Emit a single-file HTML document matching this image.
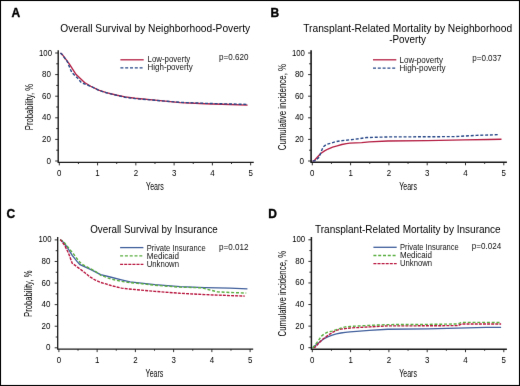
<!DOCTYPE html>
<html><head><meta charset="utf-8"><style>
html,body{margin:0;padding:0;background:#fff;width:520px;height:386px;overflow:hidden;}
svg{display:block;font-family:"Liberation Sans", sans-serif;}
</style></head><body>
<svg width="520" height="386" viewBox="0 0 520 386" font-family="Liberation Sans, sans-serif">
<defs><filter id="bl" x="0" y="0" width="520" height="386" filterUnits="userSpaceOnUse" color-interpolation-filters="sRGB"><feConvolveMatrix order="3" kernelMatrix="0 1 0 1 16 1 0 1 0" edgeMode="duplicate"/></filter></defs>
<g filter="url(#bl)">
<rect x="0" y="0" width="520" height="386" fill="#fff"/>
<text x="11.4" y="17.1" font-size="12" font-weight="bold" fill="#000" stroke="#000" stroke-width="0.35">A</text>
<text x="270.6" y="17.2" font-size="12" font-weight="bold" fill="#000" stroke="#000" stroke-width="0.35">B</text>
<text x="6.4" y="217.9" font-size="12" font-weight="bold" fill="#000" stroke="#000" stroke-width="0.35">C</text>
<text x="268.2" y="217.9" font-size="12" font-weight="bold" fill="#000" stroke="#000" stroke-width="0.35">D</text>
<text x="60.2" y="32" font-size="11" textLength="190" lengthAdjust="spacingAndGlyphs" fill="#000">Overall Survival by Neighborhood-Poverty</text>
<text x="303.2" y="31.8" font-size="11" textLength="209" lengthAdjust="spacingAndGlyphs" fill="#000">Transplant-Related Mortality by Neighborhood</text>
<text x="389.2" y="43.3" font-size="11" textLength="36.8" lengthAdjust="spacingAndGlyphs" fill="#000">-Poverty</text>
<text x="90.2" y="232.7" font-size="11" textLength="127.6" lengthAdjust="spacingAndGlyphs" fill="#000">Overall Survival by Insurance</text>
<text x="315" y="232.7" font-size="11" textLength="185.7" lengthAdjust="spacingAndGlyphs" fill="#000">Transplant-Related Mortality by Insurance</text>
<g stroke="#1a1a1a" fill="none" stroke-width="1.4">
<path d="M58.2 50.2 V162.4 H253.75"/>
<path d="M55.2 161 H58.2" stroke-width="0.9"/>
<path d="M56.2 150.2 H58.2" stroke-width="0.9"/>
<path d="M55.2 139.4 H58.2" stroke-width="0.9"/>
<path d="M56.2 128.6 H58.2" stroke-width="0.9"/>
<path d="M55.2 117.8 H58.2" stroke-width="0.9"/>
<path d="M56.2 107 H58.2" stroke-width="0.9"/>
<path d="M55.2 96.2 H58.2" stroke-width="0.9"/>
<path d="M56.2 85.4 H58.2" stroke-width="0.9"/>
<path d="M55.2 74.6 H58.2" stroke-width="0.9"/>
<path d="M56.2 63.8 H58.2" stroke-width="0.9"/>
<path d="M55.2 53 H58.2" stroke-width="0.9"/>
<path d="M59.3 162.4 V165.4" stroke-width="0.9"/>
<path d="M78.44 162.4 V164" stroke-width="0.9"/>
<path d="M97.57 162.4 V165.4" stroke-width="0.9"/>
<path d="M116.7 162.4 V164" stroke-width="0.9"/>
<path d="M135.84 162.4 V165.4" stroke-width="0.9"/>
<path d="M154.98 162.4 V164" stroke-width="0.9"/>
<path d="M174.11 162.4 V165.4" stroke-width="0.9"/>
<path d="M193.25 162.4 V164" stroke-width="0.9"/>
<path d="M212.38 162.4 V165.4" stroke-width="0.9"/>
<path d="M231.51 162.4 V164" stroke-width="0.9"/>
<path d="M250.65 162.4 V165.4" stroke-width="0.9"/>
</g>
<text x="51" y="163.5" font-size="9.1" text-anchor="end" textLength="4.5" lengthAdjust="spacingAndGlyphs" fill="#000">0</text>
<text x="50.9" y="141.9" font-size="9.1" text-anchor="end" textLength="8.9" lengthAdjust="spacingAndGlyphs" fill="#000">20</text>
<text x="50.9" y="120.3" font-size="9.1" text-anchor="end" textLength="8.9" lengthAdjust="spacingAndGlyphs" fill="#000">40</text>
<text x="50.9" y="98.7" font-size="9.1" text-anchor="end" textLength="8.9" lengthAdjust="spacingAndGlyphs" fill="#000">60</text>
<text x="50.9" y="77.1" font-size="9.1" text-anchor="end" textLength="8.9" lengthAdjust="spacingAndGlyphs" fill="#000">80</text>
<text x="52" y="55.5" font-size="9.1" text-anchor="end" textLength="13" lengthAdjust="spacingAndGlyphs" fill="#000">100</text>
<text x="59.3" y="175.7" font-size="8.2" text-anchor="middle" textLength="4.4" lengthAdjust="spacingAndGlyphs" fill="#000">0</text>
<text x="97.57" y="175.7" font-size="8.2" text-anchor="middle" textLength="4.4" lengthAdjust="spacingAndGlyphs" fill="#000">1</text>
<text x="135.84" y="175.7" font-size="8.2" text-anchor="middle" textLength="4.4" lengthAdjust="spacingAndGlyphs" fill="#000">2</text>
<text x="174.11" y="175.7" font-size="8.2" text-anchor="middle" textLength="4.4" lengthAdjust="spacingAndGlyphs" fill="#000">3</text>
<text x="212.38" y="175.7" font-size="8.2" text-anchor="middle" textLength="4.4" lengthAdjust="spacingAndGlyphs" fill="#000">4</text>
<text x="250.65" y="175.7" font-size="8.2" text-anchor="middle" textLength="4.4" lengthAdjust="spacingAndGlyphs" fill="#000">5</text>
<text x="154.98" y="190.1" font-size="10" text-anchor="middle" textLength="17.8" lengthAdjust="spacingAndGlyphs" fill="#000">Years</text>
<text transform="translate(32.5 107.05) rotate(-90)" x="0" y="0" font-size="10.4" text-anchor="middle" textLength="46.3" lengthAdjust="spacingAndGlyphs" fill="#000">Probability, %</text>
<path d="M60.45 53 L62.36 54.62 L69.1 63.69 L76.14 74.6 L84.56 82.48 L90.68 86.26 L98.72 90.15 L106.37 92.53 L117.09 95.23 L125.12 96.85 L135.07 98.25 L154.98 100.2 L180.23 102.57 L205.11 103.76 L229.98 104.52 L247.59 105.16" fill="none" stroke="#b41f44" stroke-width="1.35" stroke-linejoin="round"/>
<path d="M60.45 53 L62.36 54.84 L67.34 61.64 L69.63 67.47 L71.93 72.66 L76.9 77.41 L81.5 82.7 L87.24 84.97 L92.98 87.34 L98.72 90.37 L106.37 92.74 L117.09 95.44 L125.12 97.28 L135.07 98.58 L154.98 100.3 L180.23 102.36 L205.11 103.33 L229.98 103.98 L247.59 104.41" fill="none" stroke="#284888" stroke-width="1.4" stroke-dasharray="3 1.8" stroke-linejoin="round"/>
<path d="M120.4 59.8 H143.7" stroke="#b41f44" stroke-width="1.3"/>
<text x="147.6" y="62.1" font-size="8.6" textLength="42.7" lengthAdjust="spacingAndGlyphs" fill="#111">Low-poverty</text>
<path d="M120.4 67.8 H143.7" stroke="#284888" stroke-width="1.3" stroke-dasharray="3 1.8"/>
<text x="147.6" y="70.1" font-size="8.6" textLength="45.2" lengthAdjust="spacingAndGlyphs" fill="#111">High-poverty</text>
<text x="219" y="60.1" font-size="8.5" textLength="29.4" lengthAdjust="spacingAndGlyphs" fill="#111">p=0.620</text>
<g stroke="#1a1a1a" fill="none" stroke-width="1.6">
<path d="M311.1 50.2 V162.3 H506.9"/>
<path d="M308.1 161 H311.1" stroke-width="0.9"/>
<path d="M309.1 150.2 H311.1" stroke-width="0.9"/>
<path d="M308.1 139.4 H311.1" stroke-width="0.9"/>
<path d="M309.1 128.6 H311.1" stroke-width="0.9"/>
<path d="M308.1 117.8 H311.1" stroke-width="0.9"/>
<path d="M309.1 107 H311.1" stroke-width="0.9"/>
<path d="M308.1 96.2 H311.1" stroke-width="0.9"/>
<path d="M309.1 85.4 H311.1" stroke-width="0.9"/>
<path d="M308.1 74.6 H311.1" stroke-width="0.9"/>
<path d="M309.1 63.8 H311.1" stroke-width="0.9"/>
<path d="M308.1 53 H311.1" stroke-width="0.9"/>
<path d="M312.3 162.3 V165.3" stroke-width="0.9"/>
<path d="M331.45 162.3 V163.9" stroke-width="0.9"/>
<path d="M350.6 162.3 V165.3" stroke-width="0.9"/>
<path d="M369.75 162.3 V163.9" stroke-width="0.9"/>
<path d="M388.9 162.3 V165.3" stroke-width="0.9"/>
<path d="M408.05 162.3 V163.9" stroke-width="0.9"/>
<path d="M427.2 162.3 V165.3" stroke-width="0.9"/>
<path d="M446.35 162.3 V163.9" stroke-width="0.9"/>
<path d="M465.5 162.3 V165.3" stroke-width="0.9"/>
<path d="M484.65 162.3 V163.9" stroke-width="0.9"/>
<path d="M503.8 162.3 V165.3" stroke-width="0.9"/>
</g>
<text x="303.9" y="163.5" font-size="9.1" text-anchor="end" textLength="4.5" lengthAdjust="spacingAndGlyphs" fill="#000">0</text>
<text x="303.8" y="141.9" font-size="9.1" text-anchor="end" textLength="8.9" lengthAdjust="spacingAndGlyphs" fill="#000">20</text>
<text x="303.8" y="120.3" font-size="9.1" text-anchor="end" textLength="8.9" lengthAdjust="spacingAndGlyphs" fill="#000">40</text>
<text x="303.8" y="98.7" font-size="9.1" text-anchor="end" textLength="8.9" lengthAdjust="spacingAndGlyphs" fill="#000">60</text>
<text x="303.8" y="77.1" font-size="9.1" text-anchor="end" textLength="8.9" lengthAdjust="spacingAndGlyphs" fill="#000">80</text>
<text x="304.9" y="55.5" font-size="9.1" text-anchor="end" textLength="13" lengthAdjust="spacingAndGlyphs" fill="#000">100</text>
<text x="312.3" y="175.6" font-size="8.2" text-anchor="middle" textLength="4.4" lengthAdjust="spacingAndGlyphs" fill="#000">0</text>
<text x="350.6" y="175.6" font-size="8.2" text-anchor="middle" textLength="4.4" lengthAdjust="spacingAndGlyphs" fill="#000">1</text>
<text x="388.9" y="175.6" font-size="8.2" text-anchor="middle" textLength="4.4" lengthAdjust="spacingAndGlyphs" fill="#000">2</text>
<text x="427.2" y="175.6" font-size="8.2" text-anchor="middle" textLength="4.4" lengthAdjust="spacingAndGlyphs" fill="#000">3</text>
<text x="465.5" y="175.6" font-size="8.2" text-anchor="middle" textLength="4.4" lengthAdjust="spacingAndGlyphs" fill="#000">4</text>
<text x="503.8" y="175.6" font-size="8.2" text-anchor="middle" textLength="4.4" lengthAdjust="spacingAndGlyphs" fill="#000">5</text>
<text x="408.05" y="190" font-size="10" text-anchor="middle" textLength="17.8" lengthAdjust="spacingAndGlyphs" fill="#000">Years</text>
<text transform="translate(285.6 107.1) rotate(-90)" x="0" y="0" font-size="10.4" text-anchor="middle" textLength="86.4" lengthAdjust="spacingAndGlyphs" fill="#000">Cumulative incidence, %</text>
<path d="M312.68 161 L314.1 160.78 L317.28 157.22 L320.73 153.44 L324.56 150.85 L328 149.01 L332.6 147.18 L337.19 145.88 L341.79 144.48 L346.39 143.61 L349.83 143.18 L361.71 142.64 L369.37 141.88 L387.75 141.02 L427.2 140.7 L464.35 139.94 L488.48 139.51 L501.5 139.29" fill="none" stroke="#b41f44" stroke-width="1.35" stroke-linejoin="round"/>
<path d="M312.68 161 L314.98 160.78 L319.19 157.22 L321.3 151.28 L323.22 146.85 L326.28 144.48 L331.07 143.18 L335.28 141.78 L339.88 140.91 L349.83 139.83 L358.64 138.75 L366.69 137.56 L387.75 136.92 L419.54 136.81 L454.78 136.59 L476.22 135.4 L498.05 134.65" fill="none" stroke="#284888" stroke-width="1.4" stroke-dasharray="3 1.8" stroke-linejoin="round"/>
<path d="M373 59.8 H396.3" stroke="#b41f44" stroke-width="1.3"/>
<text x="399.5" y="62.6" font-size="8.6" textLength="43.6" lengthAdjust="spacingAndGlyphs" fill="#111">Low-poverty</text>
<path d="M373 68.2 H396.3" stroke="#284888" stroke-width="1.3" stroke-dasharray="3 1.8"/>
<text x="399.5" y="71" font-size="8.6" textLength="46" lengthAdjust="spacingAndGlyphs" fill="#111">High-poverty</text>
<text x="472.2" y="60.5" font-size="8.5" textLength="29.4" lengthAdjust="spacingAndGlyphs" fill="#111">p=0.037</text>
<g stroke="#1a1a1a" fill="none" stroke-width="1.3">
<path d="M57.7 237.1 V349.1 H253.2"/>
<path d="M54.7 347.8 H57.7" stroke-width="0.9"/>
<path d="M55.7 337.01 H57.7" stroke-width="0.9"/>
<path d="M54.7 326.22 H57.7" stroke-width="0.9"/>
<path d="M55.7 315.43 H57.7" stroke-width="0.9"/>
<path d="M54.7 304.64 H57.7" stroke-width="0.9"/>
<path d="M55.7 293.85 H57.7" stroke-width="0.9"/>
<path d="M54.7 283.06 H57.7" stroke-width="0.9"/>
<path d="M55.7 272.27 H57.7" stroke-width="0.9"/>
<path d="M54.7 261.48 H57.7" stroke-width="0.9"/>
<path d="M55.7 250.69 H57.7" stroke-width="0.9"/>
<path d="M54.7 239.9 H57.7" stroke-width="0.9"/>
<path d="M58.9 349.1 V352.1" stroke-width="0.9"/>
<path d="M78.02 349.1 V350.7" stroke-width="0.9"/>
<path d="M97.14 349.1 V352.1" stroke-width="0.9"/>
<path d="M116.26 349.1 V350.7" stroke-width="0.9"/>
<path d="M135.38 349.1 V352.1" stroke-width="0.9"/>
<path d="M154.5 349.1 V350.7" stroke-width="0.9"/>
<path d="M173.62 349.1 V352.1" stroke-width="0.9"/>
<path d="M192.74 349.1 V350.7" stroke-width="0.9"/>
<path d="M211.86 349.1 V352.1" stroke-width="0.9"/>
<path d="M230.98 349.1 V350.7" stroke-width="0.9"/>
<path d="M250.1 349.1 V352.1" stroke-width="0.9"/>
</g>
<text x="50.5" y="350.3" font-size="9.1" text-anchor="end" textLength="4.5" lengthAdjust="spacingAndGlyphs" fill="#000">0</text>
<text x="50.4" y="328.72" font-size="9.1" text-anchor="end" textLength="8.9" lengthAdjust="spacingAndGlyphs" fill="#000">20</text>
<text x="50.4" y="307.14" font-size="9.1" text-anchor="end" textLength="8.9" lengthAdjust="spacingAndGlyphs" fill="#000">40</text>
<text x="50.4" y="285.56" font-size="9.1" text-anchor="end" textLength="8.9" lengthAdjust="spacingAndGlyphs" fill="#000">60</text>
<text x="50.4" y="263.98" font-size="9.1" text-anchor="end" textLength="8.9" lengthAdjust="spacingAndGlyphs" fill="#000">80</text>
<text x="51.5" y="242.4" font-size="9.1" text-anchor="end" textLength="13" lengthAdjust="spacingAndGlyphs" fill="#000">100</text>
<text x="58.9" y="362.9" font-size="8.2" text-anchor="middle" textLength="4.4" lengthAdjust="spacingAndGlyphs" fill="#000">0</text>
<text x="97.14" y="362.9" font-size="8.2" text-anchor="middle" textLength="4.4" lengthAdjust="spacingAndGlyphs" fill="#000">1</text>
<text x="135.38" y="362.9" font-size="8.2" text-anchor="middle" textLength="4.4" lengthAdjust="spacingAndGlyphs" fill="#000">2</text>
<text x="173.62" y="362.9" font-size="8.2" text-anchor="middle" textLength="4.4" lengthAdjust="spacingAndGlyphs" fill="#000">3</text>
<text x="211.86" y="362.9" font-size="8.2" text-anchor="middle" textLength="4.4" lengthAdjust="spacingAndGlyphs" fill="#000">4</text>
<text x="250.1" y="362.9" font-size="8.2" text-anchor="middle" textLength="4.4" lengthAdjust="spacingAndGlyphs" fill="#000">5</text>
<text x="154.5" y="377.3" font-size="10" text-anchor="middle" textLength="17.8" lengthAdjust="spacingAndGlyphs" fill="#000">Years</text>
<text transform="translate(32.2 293.75) rotate(-90)" x="0" y="0" font-size="10.4" text-anchor="middle" textLength="46.5" lengthAdjust="spacingAndGlyphs" fill="#000">Probability, %</text>
<path d="M60.05 239.9 L61.88 240.55 L67.08 247.02 L72.21 255.44 L77.41 261.91 L80.01 264.72 L90.41 269.36 L100.7 274.64 L111.1 277.23 L121.5 279.82 L130.03 281.87 L154.88 284.57 L180.12 286.62 L204.98 287.59 L229.83 288.13 L247.42 288.89" fill="none" stroke="#41609c" stroke-width="1.35" stroke-linejoin="round"/>
<path d="M60.05 239.9 L63.18 241.19 L68.38 247.67 L73.51 253.93 L78.71 260.94 L81.84 264.18 L95.61 271.51 L100.7 275.29 L111.1 279.07 L121.5 281.33 L127.73 282.41 L135.38 283.06 L154.88 285.22 L180.12 287.16 L201.92 287.81 L208.04 289.53 L217.21 291.8 L229.83 292.45 L246.28 293.09" fill="none" stroke="#5aae40" stroke-width="1.4" stroke-dasharray="3 1.8" stroke-linejoin="round"/>
<path d="M60.05 239.9 L60.58 239.9 L64.48 245.08 L68.38 252.85 L72.21 263.21 L77.41 267.09 L80.01 268.93 L85.21 273.03 L90.41 277.23 L95.61 280.25 L100.7 282.41 L105.9 283.92 L111.1 285.54 L116.26 286.84 L121.5 288.13 L127.73 288.89 L135 289.53 L154.88 291.37 L180.12 293.31 L204.98 294.61 L229.83 295.58 L244.75 296.12" fill="none" stroke="#b8173f" stroke-width="1.4" stroke-dasharray="3 1.1" stroke-linejoin="round"/>
<path d="M120.1 247.6 H143.4" stroke="#41609c" stroke-width="1.3"/>
<text x="146.7" y="250.5" font-size="8.6" textLength="59" lengthAdjust="spacingAndGlyphs" fill="#111">Private Insurance</text>
<path d="M120.1 255.95 H143.4" stroke="#5aae40" stroke-width="1.3" stroke-dasharray="3 1.8"/>
<text x="146.7" y="258.85" font-size="8.6" textLength="32.3" lengthAdjust="spacingAndGlyphs" fill="#111">Medicaid</text>
<path d="M120.1 264.3 H143.4" stroke="#b8173f" stroke-width="1.3" stroke-dasharray="3 1.1"/>
<text x="146.7" y="267.2" font-size="8.6" textLength="32.3" lengthAdjust="spacingAndGlyphs" fill="#111">Unknown</text>
<text x="219" y="249.9" font-size="8.5" textLength="29.4" lengthAdjust="spacingAndGlyphs" fill="#111">p=0.012</text>
<g stroke="#1a1a1a" fill="none" stroke-width="1.5">
<path d="M311.4 237 V349.2 H506.9"/>
<path d="M308.4 347.7 H311.4" stroke-width="0.9"/>
<path d="M309.4 336.91 H311.4" stroke-width="0.9"/>
<path d="M308.4 326.12 H311.4" stroke-width="0.9"/>
<path d="M309.4 315.33 H311.4" stroke-width="0.9"/>
<path d="M308.4 304.54 H311.4" stroke-width="0.9"/>
<path d="M309.4 293.75 H311.4" stroke-width="0.9"/>
<path d="M308.4 282.96 H311.4" stroke-width="0.9"/>
<path d="M309.4 272.17 H311.4" stroke-width="0.9"/>
<path d="M308.4 261.38 H311.4" stroke-width="0.9"/>
<path d="M309.4 250.59 H311.4" stroke-width="0.9"/>
<path d="M308.4 239.8 H311.4" stroke-width="0.9"/>
<path d="M312.3 349.2 V352.2" stroke-width="0.9"/>
<path d="M331.45 349.2 V350.8" stroke-width="0.9"/>
<path d="M350.6 349.2 V352.2" stroke-width="0.9"/>
<path d="M369.75 349.2 V350.8" stroke-width="0.9"/>
<path d="M388.9 349.2 V352.2" stroke-width="0.9"/>
<path d="M408.05 349.2 V350.8" stroke-width="0.9"/>
<path d="M427.2 349.2 V352.2" stroke-width="0.9"/>
<path d="M446.35 349.2 V350.8" stroke-width="0.9"/>
<path d="M465.5 349.2 V352.2" stroke-width="0.9"/>
<path d="M484.65 349.2 V350.8" stroke-width="0.9"/>
<path d="M503.8 349.2 V352.2" stroke-width="0.9"/>
</g>
<text x="304.2" y="350.2" font-size="9.1" text-anchor="end" textLength="4.5" lengthAdjust="spacingAndGlyphs" fill="#000">0</text>
<text x="304.1" y="328.62" font-size="9.1" text-anchor="end" textLength="8.9" lengthAdjust="spacingAndGlyphs" fill="#000">20</text>
<text x="304.1" y="307.04" font-size="9.1" text-anchor="end" textLength="8.9" lengthAdjust="spacingAndGlyphs" fill="#000">40</text>
<text x="304.1" y="285.46" font-size="9.1" text-anchor="end" textLength="8.9" lengthAdjust="spacingAndGlyphs" fill="#000">60</text>
<text x="304.1" y="263.88" font-size="9.1" text-anchor="end" textLength="8.9" lengthAdjust="spacingAndGlyphs" fill="#000">80</text>
<text x="305.2" y="242.3" font-size="9.1" text-anchor="end" textLength="13" lengthAdjust="spacingAndGlyphs" fill="#000">100</text>
<text x="312.3" y="363" font-size="8.2" text-anchor="middle" textLength="4.4" lengthAdjust="spacingAndGlyphs" fill="#000">0</text>
<text x="350.6" y="363" font-size="8.2" text-anchor="middle" textLength="4.4" lengthAdjust="spacingAndGlyphs" fill="#000">1</text>
<text x="388.9" y="363" font-size="8.2" text-anchor="middle" textLength="4.4" lengthAdjust="spacingAndGlyphs" fill="#000">2</text>
<text x="427.2" y="363" font-size="8.2" text-anchor="middle" textLength="4.4" lengthAdjust="spacingAndGlyphs" fill="#000">3</text>
<text x="465.5" y="363" font-size="8.2" text-anchor="middle" textLength="4.4" lengthAdjust="spacingAndGlyphs" fill="#000">4</text>
<text x="503.8" y="363" font-size="8.2" text-anchor="middle" textLength="4.4" lengthAdjust="spacingAndGlyphs" fill="#000">5</text>
<text x="408.05" y="377.4" font-size="10" text-anchor="middle" textLength="17.8" lengthAdjust="spacingAndGlyphs" fill="#000">Years</text>
<text transform="translate(285.8 293.55) rotate(-90)" x="0" y="0" font-size="10.4" text-anchor="middle" textLength="85.7" lengthAdjust="spacingAndGlyphs" fill="#000">Cumulative incidence, %</text>
<path d="M312.68 347.7 L313.45 347.05 L318.81 342.74 L323.22 339.18 L327.62 336.91 L332.22 335.18 L336.43 333.89 L340.83 333.03 L345.24 332.38 L349.99 331.84 L369.37 330.33 L387.75 329.25 L428.35 328.82 L457.07 328.06 L486.18 327.31 L501.12 327.31" fill="none" stroke="#41609c" stroke-width="1.35" stroke-linejoin="round"/>
<path d="M313.45 347.7 L315.29 347.05 L318.81 343.06 L322.26 339.61 L325.9 336.91 L329.42 334.32 L332.98 332.16 L336.43 330.33 L340.83 329.03 L345.24 328.6 L349.99 327.95 L369.37 326.88 L387.75 325.9 L427.2 325.8 L457.84 325.58 L461.67 323.96 L501.12 323.96" fill="none" stroke="#b8173f" stroke-width="1.4" stroke-dasharray="3 1.1" stroke-linejoin="round"/>
<path d="M312.68 347.7 L313.45 347.05 L317.89 341.33 L321.49 336.15 L324.1 334 L327.62 332.16 L332.22 331.08 L336.43 329.57 L340.83 328.17 L345.24 326.88 L349.99 326.44 L369.37 325.36 L387.75 324.61 L427.2 324.39 L457.84 323.96 L461.67 322.34 L501.12 322.45" fill="none" stroke="#5aae40" stroke-width="1.4" stroke-dasharray="3 1.8" stroke-linejoin="round"/>
<path d="M373.4 247.3 H396.7" stroke="#41609c" stroke-width="1.3"/>
<text x="400" y="249.8" font-size="8.6" textLength="58.8" lengthAdjust="spacingAndGlyphs" fill="#111">Private Insurance</text>
<path d="M373.4 255.5 H396.7" stroke="#5aae40" stroke-width="1.3" stroke-dasharray="3 1.8"/>
<text x="400" y="258" font-size="8.6" textLength="32" lengthAdjust="spacingAndGlyphs" fill="#111">Medicaid</text>
<path d="M373.4 263.7 H396.7" stroke="#b8173f" stroke-width="1.3" stroke-dasharray="3 1.1"/>
<text x="400" y="266.2" font-size="8.6" textLength="32" lengthAdjust="spacingAndGlyphs" fill="#111">Unknown</text>
<text x="471.8" y="249" font-size="8.5" textLength="29.4" lengthAdjust="spacingAndGlyphs" fill="#111">p=0.024</text>
<rect x="0.5" y="0.5" width="519" height="385" fill="none" stroke="#000" stroke-width="1.1"/>
</g>
</svg>
</body></html>
